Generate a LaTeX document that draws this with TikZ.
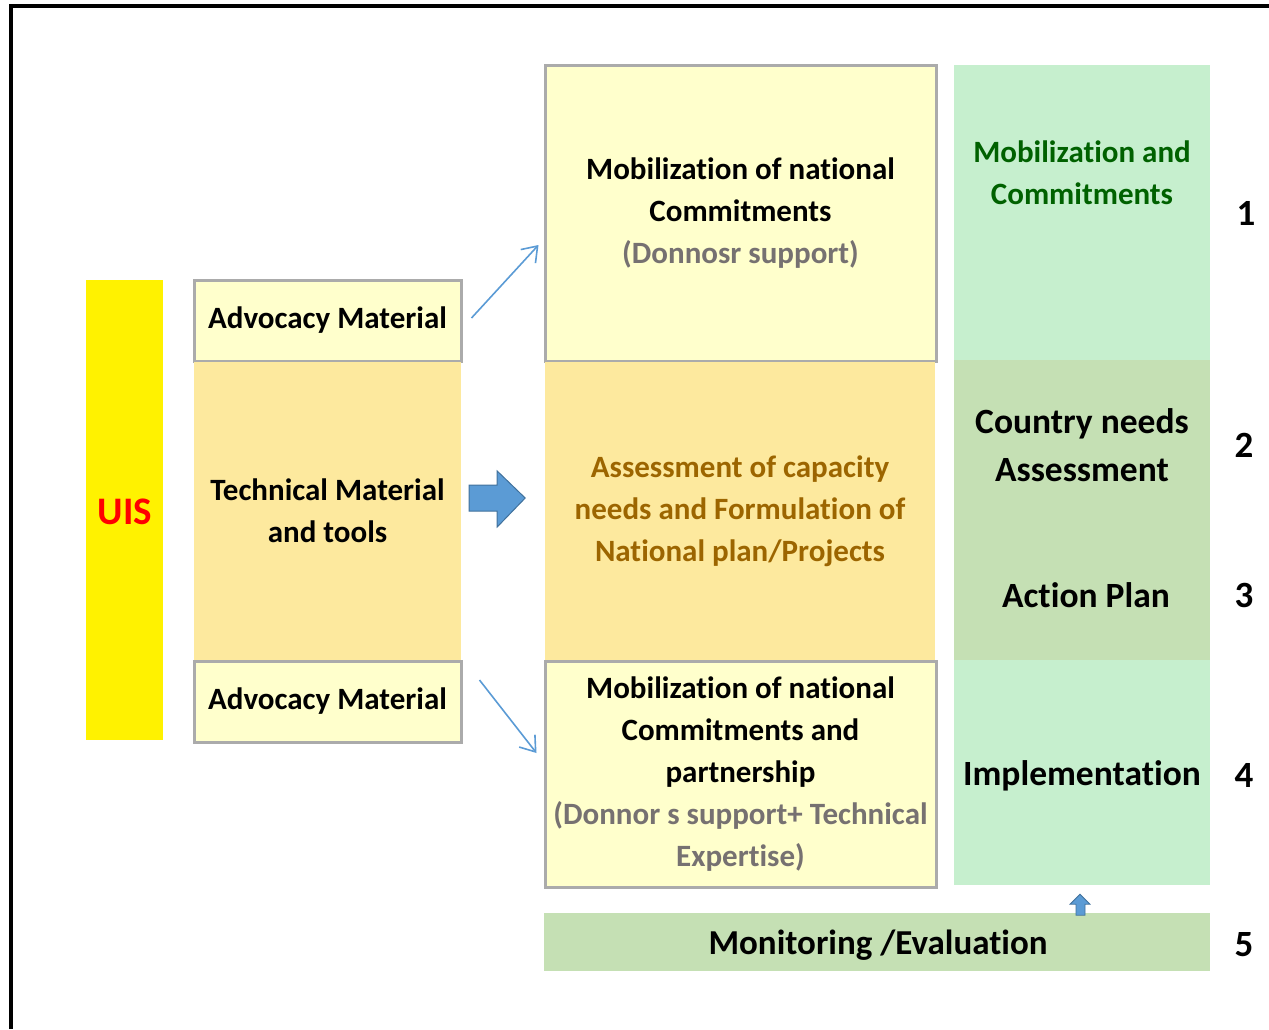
\documentclass[tikz,border=0pt]{standalone}
\usepackage{fontspec}
\setmainfont{Carlito}[RawFeature=-liga]
\usepackage{tikz}
\usetikzlibrary{arrows.meta,calc}

\definecolor{paleyellow}{HTML}{FFFFCC}
\definecolor{boxgray}{HTML}{ABABAB}
\definecolor{neutralfill}{HTML}{FDE99E}
\definecolor{neutraltext}{HTML}{9C6500}
\definecolor{goodfill}{HTML}{C6EFCE}
\definecolor{goodtext}{HTML}{006100}
\definecolor{olivefill}{HTML}{C5E0B4}
\definecolor{notegray}{HTML}{767171}
\definecolor{arrowblue}{HTML}{5B9BD5}
\definecolor{arrowedge}{HTML}{41719C}

\tikzset{
  lbl/.style={font=\fontsize{31}{42}\selectfont\bfseries, align=center, inner sep=0pt},
  bigl/.style={font=\fontsize{35.5}{48}\selectfont\bfseries, align=center, inner sep=0pt},
  palebox/.style={lbl, draw=boxgray, line width=3pt, fill=paleyellow},
  neutralbox/.style={lbl, fill=neutralfill},
  plain/.style={lbl, fill=#1},
  thinarrow/.style={draw=arrowblue, line width=1.6pt, -{Straight Barb[length=14pt,width=20pt,line width=1.6pt]}},
  blockarrow/.style={fill=arrowblue, draw=arrowedge, line width=1pt, line join=miter}
}

\begin{document}
\begin{tikzpicture}[x=1pt,y=-1pt]
\def\bw{267}
\def\cw{391}
\def\rw{256}
\useasboundingbox (0,0) rectangle (1269,1029);

% outer frame, cut at the page edge
\draw[line width=4pt] (11,1029) -- (11,6) -- (1269,6);

% left side
\node[plain=yellow, minimum width=77, minimum height=460] (uis) at (124.5,510) {};
\node[bigl, font=\fontsize{39}{48}\selectfont\bfseries, text=red] (uistxt) at (125,512) {UIS};

\node[palebox, minimum width=\bw, minimum height=81] (advtop) at (327.5,320.5) {Advocacy Material};
\node[neutralbox, minimum width=\bw, minimum height=298] (tech) at (327.5,511) {Technical Material\\and tools};
\node[palebox, minimum width=\bw, minimum height=81] (advbot) at (327.5,701.5) {Advocacy Material};

% middle column
\node[palebox, minimum width=\cw, minimum height=296] (mobtop) at (740.5,213)
  {Mobilization of national\\Commitments\\\textcolor{notegray}{(Donnosr support)}};
\node[neutralbox, text=neutraltext, minimum width=390, minimum height=298] (assess) at (740,511)
  {Assessment of capacity\\needs and Formulation of\\National plan/Projects};
\node[palebox, minimum width=\cw, minimum height=226] (mobbot) at (740.5,774)
  {Mobilization of national\\Commitments and\\partnership\\\textcolor{notegray}{(Donnor s support+ Technical}\\\textcolor{notegray}{Expertise)}};

% right column
\node[plain=goodfill, minimum width=\rw, minimum height=296] (mobc) at (1082,212.5) {};
\node[lbl, text=goodtext] (mobctxt) at (1082,173) {Mobilization and\\Commitments};
\node[plain=olivefill, minimum width=\rw, minimum height=300] (cna) at (1082,510) {};
\node[bigl] (cnatxt) at (1082,445) {Country needs\\Assessment};
\node[bigl] (action) at (1086,595) {Action Plan};
\node[plain=goodfill, minimum width=\rw, minimum height=225] (impl) at (1082,772.5) {};
\node[bigl] (impltxt) at (1082,776) {Implementation};

\node[plain=olivefill, minimum width=666, minimum height=58] (monitor) at (877,942) {};
\node[bigl, font=\fontsize{35}{42}\selectfont\bfseries] (montxt) at (878,945) {Monitoring /Evaluation};

% step numbers
\node[bigl, font=\fontsize{37}{48}\selectfont\bfseries] (n1) at (1246,213) {1};
\node[bigl, font=\fontsize{37}{48}\selectfont\bfseries] (n2) at (1244,445) {2};
\node[bigl, font=\fontsize{37}{48}\selectfont\bfseries] (n3) at (1244,595) {3};
\node[bigl, font=\fontsize{37}{48}\selectfont\bfseries] (n4) at (1244,775) {4};
\node[bigl, font=\fontsize{37}{48}\selectfont\bfseries] (n5) at (1244,945) {5};

% arrows
\draw[thinarrow] ([xshift=9pt,yshift=2.5pt]advtop.east) -- ([xshift=-5pt,yshift=-32pt]mobtop.west);
\draw[thinarrow] ([xshift=17pt,yshift=21.5pt]advbot.east) -- ([xshift=-7pt,yshift=21pt]mobbot.west);

\coordinate (bigtail) at ($(tech.east)+(8,-26)$);
\draw[blockarrow] (bigtail) -- ++(28,0) -- ++(0,-14) -- ++(28,27) -- ++(-28,29) -- ++(0,-16) -- ++(-28,0) -- cycle;

\coordinate (uptail) at ($(impl.south)+(-6,30)$);
\draw[blockarrow, line width=.8pt] (uptail) -- ++(0,-11) -- ++(-6,0) -- ++(10,-10) -- ++(10,10) -- ++(-5,0) -- ++(0,11) -- cycle;
\end{tikzpicture}
\end{document}
